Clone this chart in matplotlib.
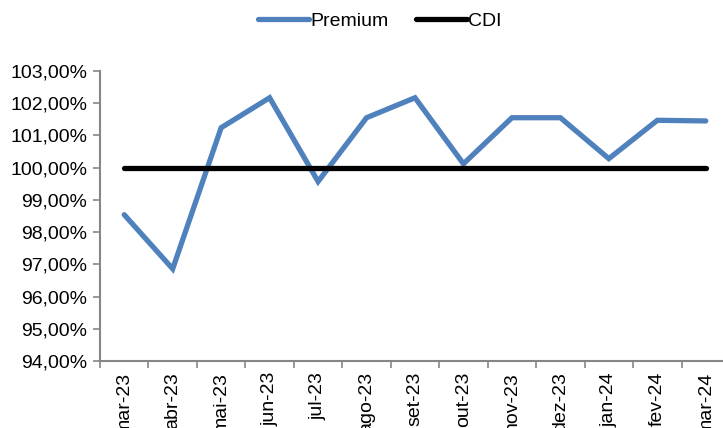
import numpy as np
import matplotlib
matplotlib.use("Agg")
from matplotlib import pyplot as plt

months = ["mar-23", "abr-23", "mai-23", "jun-23", "jul-23", "ago-23", "set-23",
          "out-23", "nov-23", "dez-23", "jan-24", "fev-24", "mar-24"]
premium = [98.54, 96.86, 101.24, 102.17, 99.57, 101.55, 102.17,
           100.12, 101.55, 101.55, 100.28, 101.47, 101.45]
cdi = [100.0] * len(months)

plt.rcParams['font.family'] = ['Liberation Sans', 'DejaVu Sans']

fig = plt.figure(figsize=(7.23, 4.28), dpi=100)
# axes slightly wider than the figure, like the cropped original
ax = fig.add_axes([100 / 723, 1 - 361 / 428, 630 / 723, 290 / 428])

x = np.arange(len(months))
ax.plot(x, premium, color="#4F81BD", lw=3.8, label="Premium",
        solid_joinstyle="miter", solid_capstyle="round")
ax.plot(x, cdi, color="black", lw=3.8, label="CDI", solid_capstyle="round")

ax.set_ylim(94, 103)
ax.set_yticks(np.arange(94, 104, 1))
ax.set_yticklabels(["{:.2f}%".format(v).replace(".", ",") for v in np.arange(94, 104, 1)])
ax.set_xlim(-0.5, len(months) - 0.5)
ax.set_xticks(np.arange(-0.5, len(months), 1))
ax.set_xticklabels([])
ax.set_xticks(x, minor=True)
ax.set_xticklabels(months, minor=True, rotation=90, fontsize=14)
ax.tick_params(axis="x", which="minor", length=0, pad=8)
ax.tick_params(axis="x", which="major", length=5, color="#868686", width=1.2)
ax.tick_params(axis="y", length=5, color="#868686", width=1.2, labelsize=14, pad=4)

for s in ["top", "right"]:
  ax.spines[s].set_visible(False)
for s in ["left", "bottom"]:
  ax.spines[s].set_color("#868686")
  ax.spines[s].set_linewidth(1.5)

fig.legend(loc="center", bbox_to_anchor=(380 / 723, 1 - 21 / 428), ncol=2, frameon=False,
           fontsize=14, handlelength=2.6, handletextpad=0.1, columnspacing=1.4)

fig.savefig("out.png", dpi=100)
